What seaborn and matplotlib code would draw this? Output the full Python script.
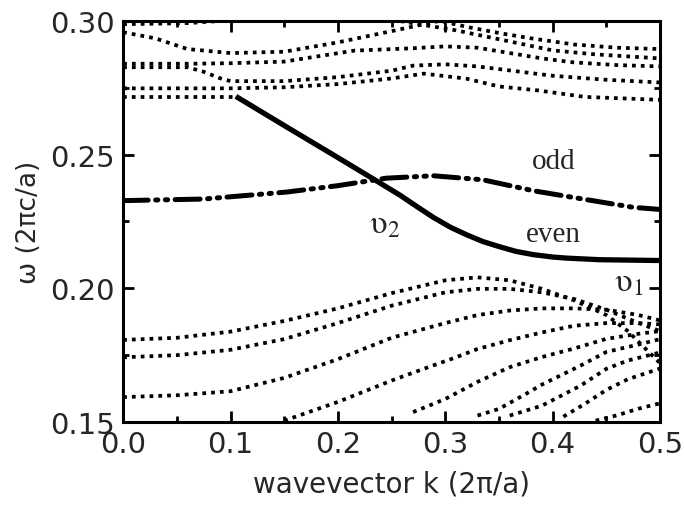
import numpy as np
import pandas as pd
import matplotlib
matplotlib.use("Agg")
import matplotlib.pyplot as plt
import seaborn as sns

# ---- bulk (projected) bands, dotted: wavevector k and frequency omega ----
band_k = {
    "u0": [0.0, 0.06, 0.12],
    "u1": [0.0, 0.03, 0.06, 0.10, 0.15, 0.20, 0.25, 0.30],
    "u2a": [0.0, 0.06, 0.10, 0.15, 0.215, 0.27, 0.30, 0.33, 0.36, 0.39, 0.42, 0.46, 0.50],
    "u2b": [0.0, 0.06, 0.075, 0.09, 0.10, 0.15, 0.20, 0.25, 0.27, 0.30, 0.33, 0.36, 0.40, 0.45, 0.50],
    "u3a": [0.0, 0.10, 0.15, 0.20, 0.25, 0.28, 0.32, 0.35, 0.385, 0.43, 0.50],
    "u3b": [0.0, 0.105],
    "r1": [0.25, 0.28, 0.31, 0.34, 0.37, 0.40, 0.44, 0.50],
    "r2": [0.29, 0.32, 0.35, 0.38, 0.42, 0.46, 0.50],
    "l1": [0.0, 0.05, 0.10, 0.15, 0.20, 0.25, 0.30, 0.33, 0.36, 0.39, 0.42, 0.45, 0.47, 0.49, 0.50],
    "l2": [0.0, 0.05, 0.10, 0.15, 0.20, 0.25, 0.30, 0.33, 0.36, 0.39, 0.42, 0.45, 0.48, 0.50],
    "l3": [0.0, 0.05, 0.10, 0.15, 0.20, 0.25, 0.30, 0.33, 0.36, 0.39, 0.42, 0.45, 0.48, 0.50],
    "l4": [0.15, 0.20, 0.25, 0.28, 0.31, 0.33, 0.36, 0.39, 0.42, 0.45, 0.48, 0.50],
    "l5": [0.27, 0.30, 0.33, 0.36, 0.39, 0.42, 0.45, 0.48, 0.50],
    "l6": [0.33, 0.35, 0.375, 0.39, 0.426, 0.45, 0.48, 0.50],
    "l7": [0.36, 0.39, 0.426, 0.45, 0.47, 0.50],
    "l8": [0.41, 0.43, 0.45, 0.47, 0.50],
    "l9": [0.44, 0.46, 0.48, 0.50],
}
band_w = {
    "u0": [0.2988, 0.2992, 0.3008],
    "u1": [0.2958, 0.2935, 0.2895, 0.2880, 0.2885, 0.2920, 0.2962, 0.3005],
    "u2a": [0.2840, 0.2840, 0.2842, 0.2848, 0.2889, 0.2898, 0.2905, 0.2900, 0.2880, 0.2860, 0.2845, 0.2835, 0.2830],
    "u2b": [0.2827, 0.2827, 0.2810, 0.2786, 0.2775, 0.2775, 0.2790, 0.2814, 0.2833, 0.2838, 0.2830, 0.2815, 0.2795, 0.2780, 0.2770],
    "u3a": [0.2748, 0.2748, 0.2752, 0.2764, 0.2785, 0.2803, 0.2784, 0.2755, 0.2741, 0.2716, 0.2705],
    "u3b": [0.2717, 0.2717],
    "r1": [0.3005, 0.2985, 0.2965, 0.2940, 0.2915, 0.2890, 0.2875, 0.2860],
    "r2": [0.3005, 0.2978, 0.2955, 0.2935, 0.2912, 0.2900, 0.2895],
    "l1": [0.1807, 0.1815, 0.1838, 0.1878, 0.1925, 0.1982, 0.2030, 0.2041, 0.2030, 0.1998, 0.1955, 0.1900, 0.1840, 0.1760, 0.1720],
    "l2": [0.1742, 0.1750, 0.1770, 0.1810, 0.1870, 0.1935, 0.1985, 0.1998, 0.1998, 0.1985, 0.1960, 0.1920, 0.1870, 0.1840],
    "l3": [0.1593, 0.1600, 0.1615, 0.1665, 0.1735, 0.1815, 0.1870, 0.1900, 0.1917, 0.1925, 0.1925, 0.1920, 0.1900, 0.1880],
    "l4": [0.1505, 0.1575, 0.1655, 0.1699, 0.1742, 0.1773, 0.1806, 0.1835, 0.1860, 0.1870, 0.1870, 0.1865],
    "l5": [0.1537, 0.1586, 0.1650, 0.1705, 0.1743, 0.1775, 0.1811, 0.1830, 0.1840],
    "l6": [0.1524, 0.1549, 0.1605, 0.1640, 0.1711, 0.1762, 0.1790, 0.1810],
    "l7": [0.1524, 0.1561, 0.1636, 0.1699, 0.1730, 0.1760],
    "l8": [0.1520, 0.1568, 0.1620, 0.1660, 0.1700],
    "l9": [0.1505, 0.1525, 0.1550, 0.1570],
}

# ---- guided modes of the defect waveguide ----
even_k = [0.105, 0.15, 0.20, 0.233, 0.258, 0.275, 0.289, 0.305, 0.32, 0.335, 0.351, 0.366, 0.382, 0.40, 0.413, 0.444, 0.50]
even_w = [0.2718, 0.2609, 0.2489, 0.2409, 0.2348, 0.2302, 0.2265, 0.2228, 0.2200, 0.2175, 0.2155, 0.2138, 0.2126, 0.2117, 0.2113, 0.2107, 0.2104]
odd_k = [0.0, 0.075, 0.152, 0.20, 0.245, 0.289, 0.335, 0.382, 0.428, 0.475, 0.50]
odd_w = [0.2328, 0.2334, 0.2360, 0.2384, 0.2412, 0.2421, 0.2406, 0.2365, 0.2334, 0.2303, 0.2295]

x_ticks = [0.0, 0.1, 0.2, 0.3, 0.4, 0.5]
y_ticks = [0.15, 0.20, 0.25, 0.30]

sns.set_theme(style="ticks")
plt.rcParams["font.family"] = ["DejaVu Sans"]
plt.rcParams["mathtext.fontset"] = "stix"

fig = plt.figure(figsize=(6.84, 5.10), dpi=100)
ax = fig.add_axes([0.180, 0.1706, 0.785, 0.7863])

rows = []
for name in band_k:
    for k, w in zip(band_k[name], band_w[name]):
        rows.append({"band": name, "k": k, "w": w})
bands = pd.DataFrame(rows)

for name, grp in bands.groupby("band", sort=False):
    sns.lineplot(data=grp, x="k", y="w", ax=ax, color="black", lw=2.7,
                 linestyle=(0, (1.0, 1.35)), sort=False, estimator=None,
                 legend=False)

sns.lineplot(x=even_k, y=even_w, ax=ax, color="black", lw=3.8,
             sort=False, estimator=None, legend=False,
             solid_capstyle="butt", solid_joinstyle="round")
sns.lineplot(x=odd_k, y=odd_w, ax=ax, color="black", lw=3.6,
             linestyle=(0, (5.0, 1.5, 0.45, 1.5, 0.45, 1.5)),
             sort=False, estimator=None, legend=False,
             dash_capstyle="round")

serif = ["Liberation Serif", "DejaVu Serif"]
ax.text(0.401, 0.2476, "odd", fontsize=21, family=serif, ha="center", va="center")
ax.text(0.401, 0.2203, "even", fontsize=21, family=serif, ha="center", va="center")
ax.text(0.243, 0.2246, r"$\mathrm{\upsilon}_{2}$", fontsize=24, ha="center", va="center")
ax.text(0.471, 0.2028, r"$\mathrm{\upsilon}_{1}$", fontsize=24, ha="center", va="center")

ax.set_xlim(0.0, 0.5)
ax.set_ylim(0.15, 0.30)
ax.set_xticks(x_ticks)
ax.set_xticklabels([f"{v:.1f}" for v in x_ticks])
ax.set_yticks(y_ticks)
ax.set_yticklabels([f"{v:.2f}" for v in y_ticks])
ax.set_xticks(np.arange(0.0, 0.5001, 0.05), minor=True)
ax.set_yticks(np.arange(0.15, 0.3001, 0.025), minor=True)

ax.tick_params(which="both", direction="in", top=True, right=True,
               color="black", width=2.0)
ax.tick_params(which="major", length=8, labelsize=21, pad=6)
ax.tick_params(which="minor", length=4.5)
for sp in ax.spines.values():
    sp.set_linewidth(2.2)
    sp.set_color("black")

ax.set_xlabel("wavevector k (2\u03c0/a)", fontsize=20, labelpad=8)
ax.set_ylabel("\u03c9 (2\u03c0c/a)", fontsize=19, labelpad=6)

fig.savefig("out.png", dpi=100, facecolor="white")
